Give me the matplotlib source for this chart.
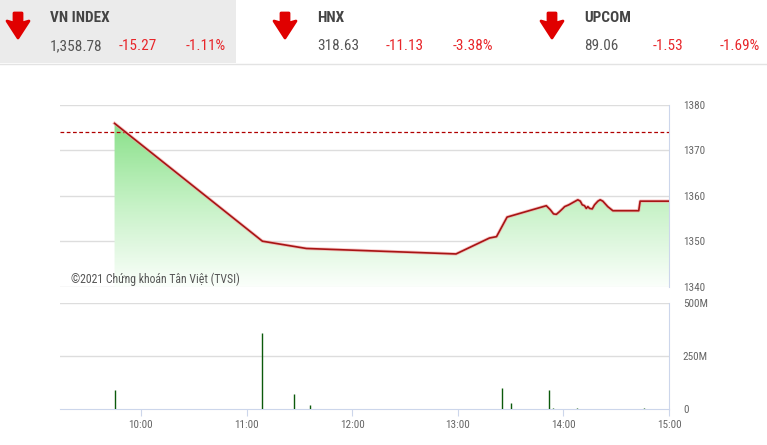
import matplotlib
matplotlib.use("Agg")
import matplotlib.pyplot as plt
import matplotlib.patheffects as pe
from matplotlib.colors import LinearSegmentedColormap
from matplotlib.patches import Polygon
import numpy as np

plt.rcParams['font.family'] = ['Roboto Condensed', 'Liberation Sans Narrow', 'Roboto', 'DejaVu Sans']

# header quotes
names = ['VN INDEX', 'HNX', 'UPCOM']
points = ['1,358.78', '318.63', '89.06']
changes = ['-15.27', '-11.13', '-1.53']
pcts = ['-1.11%', '-3.38%', '-1.69%']

prev_close = 1374.05

# intraday index, time in minutes after midnight
price_t = [585, 669, 694, 779, 798, 802, 808, 830.3, 832.6, 834.4, 836, 837.8, 839.7,
           840.7, 843.1, 845.4, 848.2, 849.6, 850.7, 852, 853, 853.9, 854.9, 856.4,
           857.7, 859.6, 860.9, 862.4, 865.2, 868.1, 882.8, 883.6, 900]
price_v = [1375.9, 1350.0, 1348.4, 1347.2, 1350.7, 1351.0, 1355.3, 1357.8, 1356.9, 1356.0,
           1355.9, 1356.5, 1357.2, 1357.6, 1358.0, 1358.5, 1359.1, 1358.8, 1358.0, 1357.8,
           1357.2, 1357.6, 1357.2, 1357.1, 1358.0, 1358.8, 1359.1, 1358.8, 1357.6, 1356.7,
           1356.7, 1358.8, 1358.8]

# volume (millions)
vol_t = [585, 669, 687, 696, 779, 805, 810, 832, 834, 848, 886]
vol_v = [90, 357, 70, 19, 2, 100, 30, 91, 5, 3, 3]

price_ticks = [1340, 1350, 1360, 1370, 1380]
vol_ticks = [0, 250, 500]
vol_labels = ['0', '250M', '500M']
hour_ticks = [600, 660, 720, 780, 840, 900]
hour_labels = ['10:00', '11:00', '12:00', '13:00', '14:00', '15:00']

W, H = 767, 445
fig = plt.figure(figsize=(W / 100, H / 100), dpi=100)
fig.patch.set_facecolor('white')


def fx(x):
    return x / W


def fy(y):
    return 1 - y / H


# header
fig.patches.append(plt.Rectangle((0, fy(63)), fx(236), 63 / H, transform=fig.transFigure,
                                 facecolor='#ebebeb', edgecolor='none', zorder=0))
fig.add_artist(plt.Line2D([0, 1], [fy(64), fy(64)], transform=fig.transFigure,
                          color='#e3e3e3', lw=1))

red = '#e8262a'
starts = [0, 267, 534]
for i, x0 in enumerate(starts):
    ax_x = x0 + 18
    arrow = [(ax_x - 4, 13), (ax_x + 4, 13), (ax_x + 4, 23), (ax_x + 11, 21), (ax_x, 38),
             (ax_x - 11, 21), (ax_x - 4, 23)]
    fig.patches.append(Polygon([(fx(a), fy(b)) for a, b in arrow], closed=True,
                               transform=fig.transFigure, facecolor='#e00000',
                               edgecolor='#e00000', lw=2, joinstyle='round'))
    tx = x0 + 50
    fig.text(fx(tx), fy(18), names[i], fontsize=11, fontweight='bold', color='#444444',
             va='center', ha='left')
    fig.text(fx(tx), fy(46), points[i], fontsize=11, color='#555555', va='center', ha='left')
    fig.text(fx(tx + 69), fy(46), changes[i], fontsize=11, color=red, va='center', ha='left')
    fig.text(fx(tx + 136), fy(46), pcts[i], fontsize=11, color=red, va='center', ha='left')

grid_c = '#dddddd'
axis_c = '#ccd6eb'
tick_c = '#666666'

# price panel
ax1 = fig.add_axes([fx(60), fy(286.7), fx(669 - 60), (286.7 - 104.7) / H])
ax1.set_xlim(554, 900)
ax1.set_ylim(1340, 1380)
for s in ['top', 'left', 'bottom']:
    ax1.spines[s].set_visible(False)
ax1.spines['right'].set_color(axis_c)
ax1.yaxis.tick_right()
ax1.set_yticks(price_ticks)
ax1.tick_params(axis='y', length=0, pad=10, labelsize=8, labelcolor=tick_c)
ax1.set_xticks([])
for v in price_ticks:
    ax1.axhline(v, color=grid_c, lw=1, zorder=1)

green = LinearSegmentedColormap.from_list(
    'g', [(0, '#fbfffb'), (0.274, '#def7de'), (0.493, '#c6f2c6'), (1, '#88e088')])
grad = np.linspace(0, 1, 256).reshape(-1, 1)
im = ax1.imshow(grad, cmap=green, origin='lower', aspect='auto',
                extent=[554, 900, 1340, 1376.5], zorder=2)
verts = [(price_t[0], 1340)] + list(zip(price_t, price_v)) + [(price_t[-1], 1340)]
clip = Polygon(verts, closed=True, facecolor='none', edgecolor='none')
ax1.add_patch(clip)
im.set_clip_path(clip)
ax1.set_ylim(1340, 1380)

ax1.axhline(prev_close, color='#b00000', lw=0.9, dashes=(3, 2), zorder=3)
ax1.plot(price_t, price_v, color='#a81414', lw=1.2, zorder=4,
         path_effects=[pe.Stroke(linewidth=2.4, foreground='#f3a0a0', alpha=0.6), pe.Normal()])

fig.text(fx(71), fy(279), '©2021 Chứng khoán Tân Việt (TVSI)', fontsize=8.5,
         color='#555555', va='center', ha='left')

# volume panel
ax2 = fig.add_axes([fx(60), fy(409), fx(669 - 60), (409 - 303) / H])
ax2.set_xlim(554, 900)
ax2.set_ylim(0, 500)
for s in ['top', 'left']:
    ax2.spines[s].set_visible(False)
ax2.spines['right'].set_color(axis_c)
ax2.spines['bottom'].set_color(axis_c)
ax2.yaxis.tick_right()
ax2.set_yticks(vol_ticks)
ax2.set_yticklabels(vol_labels)
ax2.tick_params(axis='y', length=0, pad=10, labelsize=8, labelcolor=tick_c)
ax2.set_xticks(hour_ticks)
ax2.set_xticklabels(hour_labels)
ax2.tick_params(axis='x', length=5, color=axis_c, labelsize=8, labelcolor=tick_c, pad=3)
for v in vol_ticks[1:]:
    ax2.axhline(v, color=grid_c, lw=1, zorder=1)
ax2.vlines(vol_t, 0, vol_v, color='#0b5a0b', lw=1.0, zorder=3)

fig.savefig('out.png', dpi=100)
